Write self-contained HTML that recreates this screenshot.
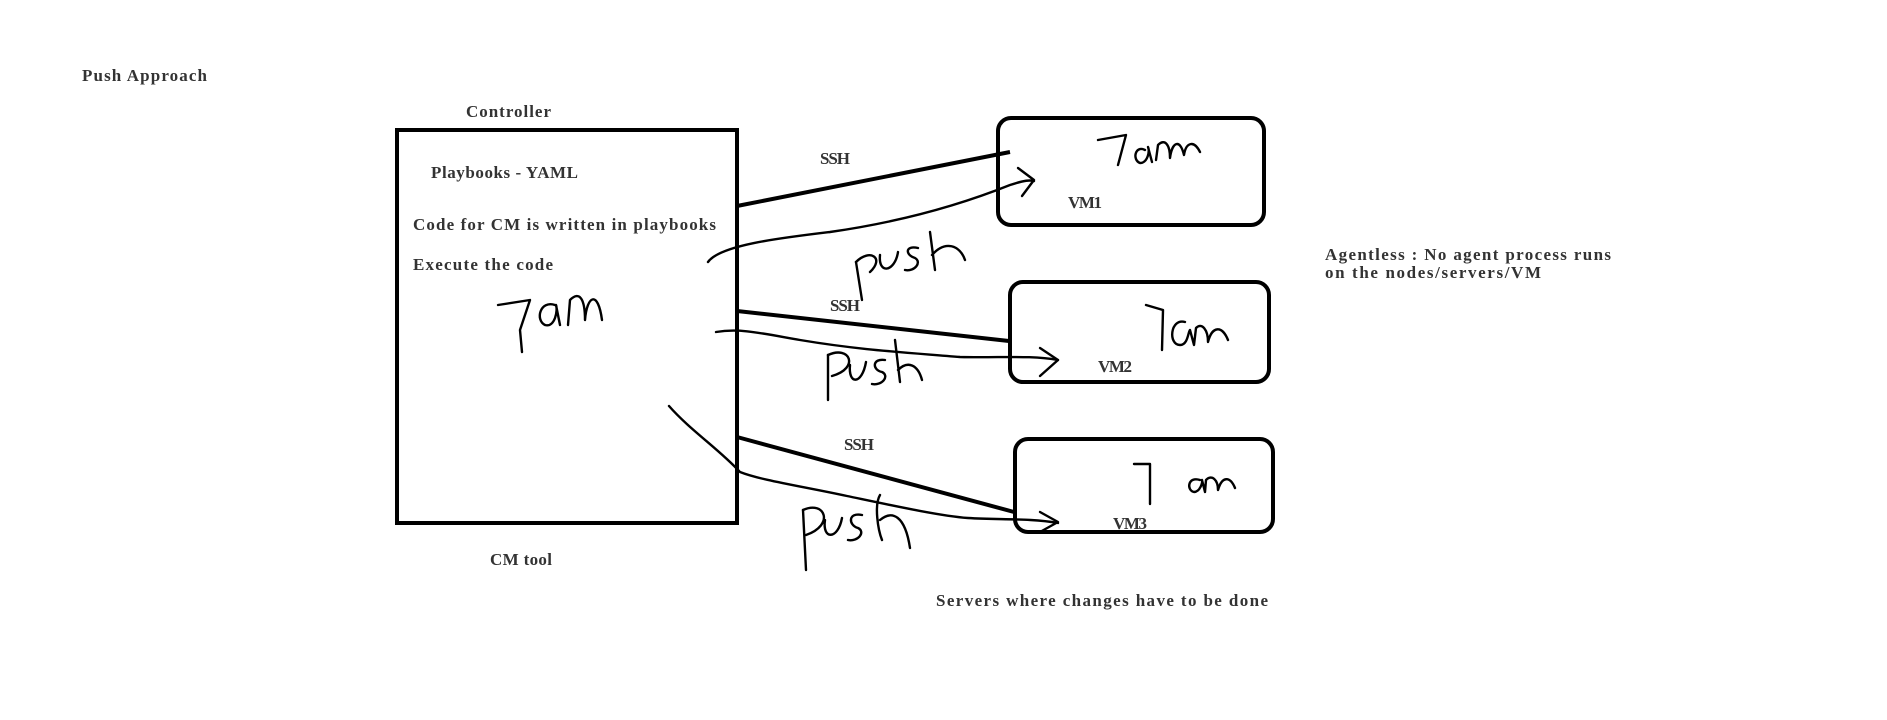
<!DOCTYPE html>
<html><head><meta charset="utf-8"><style>
html,body{margin:0;padding:0;background:#fff;}
svg{display:block;}
text{font-family:"Liberation Serif",serif;font-weight:bold;fill:#333;font-size:17px;}
</style></head><body>
<svg width="1887" height="720" viewBox="0 0 1887 720" xmlns="http://www.w3.org/2000/svg">
<rect width="1887" height="720" fill="#fff"/>
<g transform="translate(-4,0)">
<text x="86" y="81" textLength="125">Push Approach</text>
<text x="470" y="117" textLength="85">Controller</text>
<rect x="401" y="130" width="340" height="393" fill="none" stroke="#000" stroke-width="4"/>
<text x="435" y="178" textLength="147">Playbooks - YAML</text>
<text x="417" y="230" textLength="303">Code for CM is written in playbooks</text>
<text x="417" y="270" textLength="140">Execute the code</text>
<text x="494" y="565" textLength="62">CM tool</text>

<rect x="1002" y="118" width="266" height="107" rx="13" fill="none" stroke="#000" stroke-width="4"/>
<rect x="1014" y="282" width="259" height="100" rx="13" fill="none" stroke="#000" stroke-width="4"/>
<rect x="1019" y="439" width="258" height="93" rx="13" fill="none" stroke="#000" stroke-width="4"/>
<text x="1072" y="208" textLength="34">VM1</text>
<text x="1102" y="372" textLength="34">VM2</text>
<text x="1117" y="529" textLength="34">VM3</text>

<text x="824" y="164" textLength="30">SSH</text>
<text x="834" y="311" textLength="30">SSH</text>
<text x="848" y="450" textLength="30">SSH</text>
<line x1="741" y1="206" x2="1014" y2="152" stroke="#000" stroke-width="4"/>
<line x1="741" y1="311" x2="1013" y2="341" stroke="#000" stroke-width="4"/>
<line x1="741" y1="437" x2="1018" y2="512" stroke="#000" stroke-width="4"/>

<text x="1329" y="260" textLength="286">Agentless : No agent process runs</text>
<text x="1329" y="278" textLength="216">on the nodes/servers/VM</text>
<text x="940" y="606" textLength="332">Servers where changes have to be done</text>

<g fill="none" stroke="#000" stroke-width="2.4" stroke-linecap="round" stroke-linejoin="round">
<path d="M712,262 C724,245 784,238 834,232 C904,222 964,205 1014,185 C1029,180 1034,180 1038,181"/>
<path d="M1022,168 L1038,180 L1026,196"/>
<path d="M720,332 C744,328 764,333 804,340 C864,350 904,352 964,357 C1004,358 1034,355 1062,360"/>
<path d="M1044,348 L1062,360 L1044,376"/>
<path d="M673,406 C694,430 724,450 744,472 C764,480 804,486 851,496 C894,505 944,516 972,518 C1004,520 1034,518 1062,523"/>
<path d="M1044,512 L1062,522 L1044,532"/>
<path d="M502,305 L534,300 L524,330 L526,352"/>
<path d="M559,305 C544,300 539,320 549,325 C559,328 562,310 560,305 L564,325"/>
<path d="M572,325 L574,300 C584,290 589,300 589,320 C591,295 602,290 606,320"/>
<path d="M1102,140 L1130,135 L1122,165"/>
<path d="M1149,150 C1139,145 1136,160 1144,163 C1152,163 1154,150 1152,147 L1156,162"/>
<path d="M1160,160 L1162,145 C1169,138 1174,145 1174,158 C1176,142 1184,138 1188,155 C1190,142 1198,140 1204,152"/>
<path d="M1150,305 L1167,310 L1166,350"/>
<path d="M1189,322 C1174,318 1172,345 1184,345 C1192,345 1192,332 1194,330 L1198,345 L1200,328 C1206,322 1212,330 1212,342 C1216,326 1226,325 1232,340"/>
<path d="M1138,464 L1154,464 L1154,504"/>
<path d="M1204,480 C1192,476 1190,490 1198,492 C1204,492 1207,482 1206,480 L1209,492 L1210,480 C1216,474 1222,480 1222,490 C1226,476 1234,476 1239,488"/>
<path d="M860,262 L866,300"/>
<path d="M860,262 C874,248 889,258 874,272"/>
<path d="M884,255 C882,275 899,272 902,252"/>
<path d="M922,248 C909,245 909,255 919,258 C926,262 919,272 909,270"/>
<path d="M934,232 L939,270 M936,255 C949,240 964,245 969,260"/>
<path d="M832,355 L832,400"/>
<path d="M832,355 C854,345 864,368 836,376"/>
<path d="M854,365 C852,385 866,385 870,362"/>
<path d="M889,360 C876,358 876,370 886,372 C894,376 886,386 876,384"/>
<path d="M899,340 L904,382 M902,370 C912,360 922,365 926,380"/>
<path d="M807,510 L810,570"/>
<path d="M807,510 C829,500 839,525 810,535"/>
<path d="M829,520 C826,540 842,540 846,518"/>
<path d="M866,515 C852,512 852,525 862,528 C870,532 862,542 852,540"/>
<path d="M884,495 C878,505 882,530 886,540 M884,520 C896,510 909,515 914,548"/>
</g>
</g>
</svg>
</body></html>
